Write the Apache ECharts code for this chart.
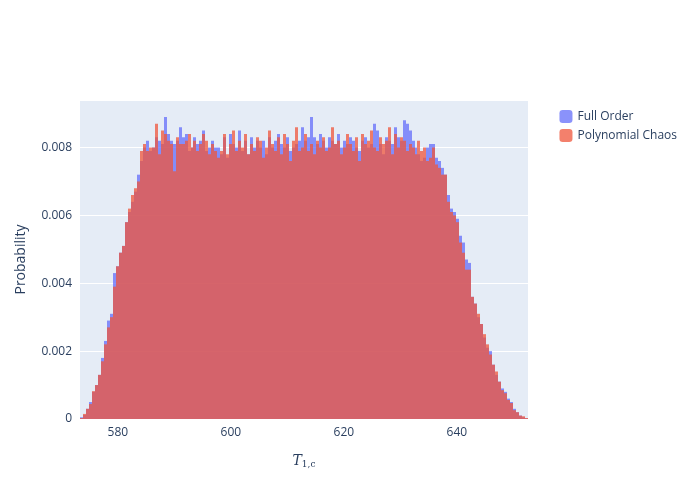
<!DOCTYPE html>
<html><head><meta charset="utf-8">
<script src="https://cdn.jsdelivr.net/npm/echarts@6/dist/echarts.min.js"></script>
<style>html,body{margin:0;background:#fff}#c{width:700px;height:500px}</style>
</head><body><div id="c"></div>
<script>
const xMin = 573.3, xMax = 652.6;
const yTicks = [0, 0.002, 0.004, 0.006, 0.008];
const xTicks = [580, 600, 620, 640];
const seriesNames = ["Full Order", "Polynomial Chaos"];

const fullRise = [0.00005,0.00012,0.0003,0.0005,0.0008,0.0010,0.0013,0.0018,0.0023,0.0029,0.0031,0.0043,0.0045,0.0049,0.0051,0.0058,0.0061,0.0064,0.0067,0.0072,0.0076];
const fullPlateau = [0.0080,0.0082,0.0079,0.0080,0.0083,0.0082,0.0081,0.0089,0.0084,0.0082,0.0081,0.0082,0.0086,0.0083,0.0084,0.0079,0.0080,0.0083,0.0081,0.0082,
 0.0085,0.0079,0.0080,0.0082,0.0080,0.0080,0.0078,0.0083,0.0077,0.0084,0.0081,0.0080,0.0085,0.0079,0.0082,0.0078,0.0083,0.0080,0.0082,0.0080,
 0.0082,0.0078,0.0083,0.0080,0.0082,0.0084,0.0081,0.0080,0.0083,0.0079,0.0080,0.0081,0.0082,0.0086,0.0082,0.0083,0.0089,0.0083,0.0081,0.0084,
 0.0082,0.0080,0.0083,0.0082,0.0081,0.0084,0.0080,0.0082,0.0081,0.0083,0.0082,0.0080,0.0079,0.0082,0.0083,0.0080,0.0081,0.0087,0.0085,0.0081,
 0.0078,0.0083,0.0082,0.0081,0.0086,0.0083,0.0082,0.0088,0.0087,0.0085,0.0082,0.0080,0.0078,0.0076,0.0077,0.0080,0.0081];
const fullFall = [0.0081,0.0077,0.0076,0.0074,0.0072,0.0066,0.0062,0.0061,0.0059,0.0054,0.0052,0.0047,0.0046,0.0036,0.0034,0.0030,0.0028,0.0024,0.0021,0.0020,0.0016,0.0013,0.0011,0.0009,0.0008,0.0006,0.0005,0.0003,0.0002,0.0001,0.00005,0.00002];

const pceRise = [0.00003,0.00015,0.0003,0.00044,0.00082,0.0010,0.0013,0.0017,0.0022,0.0027,0.0030,0.0039,0.0045,0.0049,0.0051,0.0058,0.0062,0.0066,0.0068,0.0070,0.0079];
const pcePlateau = [0.0081,0.0079,0.0080,0.0080,0.0087,0.0078,0.0085,0.0084,0.0082,0.0081,0.0073,0.0083,0.0081,0.0081,0.0082,0.0084,0.0080,0.0082,0.0079,0.0081,
 0.0084,0.0082,0.0078,0.0081,0.0079,0.0077,0.0079,0.0084,0.0078,0.0081,0.0085,0.0079,0.0082,0.0080,0.0084,0.0078,0.0081,0.0079,0.0083,0.0082,
 0.0077,0.0080,0.0085,0.0081,0.0079,0.0083,0.0078,0.0084,0.0081,0.0076,0.0082,0.0086,0.0079,0.0080,0.0084,0.0079,0.0081,0.0078,0.0082,0.0080,
 0.0083,0.0079,0.0080,0.0086,0.0081,0.0082,0.0078,0.0080,0.0084,0.0081,0.0079,0.0083,0.0076,0.0084,0.0081,0.0082,0.0085,0.0080,0.0079,0.0083,
 0.0081,0.0082,0.0086,0.0078,0.0084,0.0080,0.0083,0.0082,0.0079,0.0081,0.0080,0.0078,0.0082,0.0079,0.0080,0.0076,0.0077];
const pceFall = [0.0080,0.0075,0.0074,0.0072,0.0072,0.0064,0.0061,0.0060,0.0058,0.0052,0.0049,0.0044,0.0044,0.0036,0.0034,0.0031,0.0028,0.0025,0.0022,0.0019,0.0016,0.0014,0.0011,0.00085,0.00076,0.00056,0.00047,0.00026,0.0002,0.0001,0.00008,0.00003];

const fullOrder = fullRise.concat(fullPlateau, fullFall);
const polyChaos = pceRise.concat(pcePlateau, pceFall);

function toBins(vals){
  const w = (xMax - xMin) / vals.length;
  return vals.map((v,i)=>[xMin + i*w, xMin + (i+1)*w, v]);
}
function renderItem(color){
  return function(params, api){
    const p0 = api.coord([api.value(0), api.value(2)]);
    const p1 = api.coord([api.value(1), 0]);
    const x0 = Math.round(p0[0]), x1 = Math.round(p1[0]);
    return {type:'rect', shape:{x:x0, y:p0[1], width:x1-x0, height:p1[1]-p0[1]},
      style:{fill:color, opacity:0.75}};
  };
}
const chart = echarts.init(document.getElementById('c'));
chart.setOption({
  animation:false,
  textStyle:{fontFamily:'Open Sans, sans-serif', color:'#2a3f5f'},
  grid:{left:80, right:172, top:100, bottom:81, backgroundColor:'#e5ecf6', show:true, borderWidth:0},
  legend:{right:18, top:105, orient:'vertical', itemWidth:13, itemHeight:13, itemGap:6,
    textStyle:{fontSize:12, color:'#2a3f5f'}, data:seriesNames},
  xAxis:{type:'value', min:xMin, max:xMax,
    axisLine:{show:false}, axisTick:{show:false}, splitLine:{show:false},
    axisLabel:{fontSize:12, color:'#2a3f5f', customValues: xTicks},
    name:'{i|T}{s|1,c}', nameLocation:'middle', nameGap:35,
    nameTextStyle:{rich:{i:{fontStyle:'italic', fontFamily:'DejaVu Serif', fontSize:14, color:'#2a3f5f'}, s:{fontFamily:'DejaVu Serif', fontSize:9, color:'#2a3f5f', verticalAlign:'bottom', padding:[6,0,0,0]}}}},
  yAxis:{type:'value', min:0, max:0.0094, interval:0.002,
    axisLine:{show:false}, axisTick:{show:false}, splitLine:{lineStyle:{color:'#fff'}},
    axisLabel:{fontSize:12, color:'#2a3f5f', formatter:v=>{
      const t = yTicks.find(k=>Math.abs(k-v)<1e-7);
      return t===undefined ? '' : (t===0?'0':t.toFixed(3));
    }},
    name:'Probability', nameLocation:'middle', nameGap:52, nameTextStyle:{fontSize:14, color:'#2a3f5f'}},
  series:[
    {name:seriesNames[0], type:'custom', renderItem:renderItem('#636efa'), itemStyle:{color:'#636efa', opacity:0.75}, data:toBins(fullOrder), encode:{x:[0,1], y:2}},
    {name:seriesNames[1], type:'custom', renderItem:renderItem('#ef553b'), itemStyle:{color:'#ef553b', opacity:0.75}, data:toBins(polyChaos), encode:{x:[0,1], y:2}}
  ]
});
</script></body></html>
